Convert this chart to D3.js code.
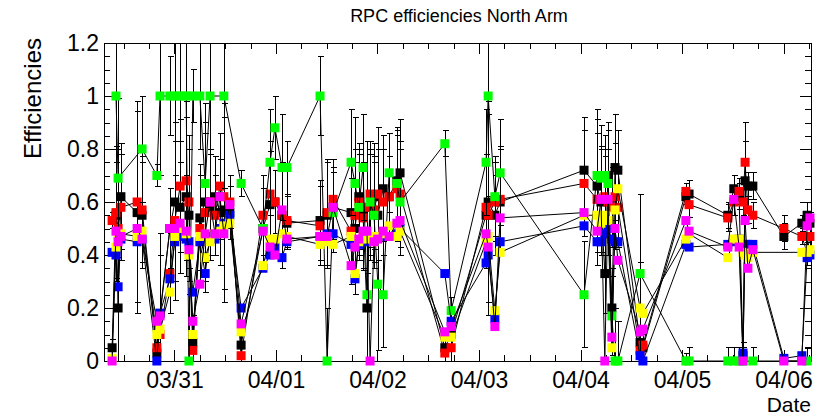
<!DOCTYPE html>
<html>
<head>
<meta charset="utf-8">
<script src="https://cdn.jsdelivr.net/npm/d3@7"></script>
<style>
  body { margin: 0; background: #fff; }
  text { font-family: "Liberation Sans", Arial, Helvetica, sans-serif; fill: #000; }
</style>
</head>
<body>
<svg id="chart" width="822" height="418"></svg>
<script>
// run times (2008), one entry per measurement
const times = [
  "03/30 09:15","03/30 10:10","03/30 10:40","03/30 11:20","03/30 15:10","03/30 16:20","03/30 19:50","03/30 20:35","03/30 22:55","03/31 00:05",
  "03/31 01:20","03/31 02:45","03/31 03:25","03/31 04:20","03/31 06:00","03/31 07:15","03/31 08:25","03/31 09:35","03/31 10:45","03/31 11:40",
  "03/31 13:05","03/31 15:45","03/31 20:55","03/31 22:35","03/31 23:45","04/01 01:25","04/01 02:35","04/01 10:25","04/01 12:05","04/01 13:30",
  "04/01 17:45","04/01 18:40","04/01 19:35","04/01 20:35","04/01 21:30","04/01 22:15","04/01 23:10","04/02 00:05","04/02 01:20","04/02 02:45",
  "04/02 04:35","04/02 05:20","04/02 15:55","04/02 17:25","04/03 01:40","04/03 02:10","04/03 03:45","04/03 05:00","04/04 00:50","04/04 03:55",
  "04/04 04:50","04/04 05:45","04/04 06:30","04/04 07:25","04/04 08:10","04/04 08:50","04/04 14:05","04/04 14:45","04/05 00:55","04/05 01:40",
  "04/05 10:50","04/05 12:15","04/05 13:30","04/05 14:25","04/05 14:55","04/05 15:35","04/05 16:45","04/06 00:05","04/06 04:20","04/06 05:35",
  "04/06 06:15"
];

const black = [
  0.05,0.55,0.20,0.62,0.56,0.55,0.03,0.18,0.50,0.60,
  0.58,0.62,0.55,0.07,0.54,0.60,0.58,0.62,0.56,0.57,
  0.56,0.06,0.50,0.59,0.60,0.55,0.52,0.53,0.55,0.58,
  0.56,0.50,0.62,0.55,0.20,0.58,0.62,0.55,0.65,0.62,
  0.68,0.71,0.05,0.10,0.55,0.60,0.55,0.60,0.72,0.66,
  0.60,0.33,0.70,0.20,0.73,0.72,0.07,0.05,0.62,0.63,
  0.55,0.65,0.62,0.02,0.68,0.66,0.66,0.47,0.52,0.55,
  0.52
];
const red = [
  0.53,0.56,0.50,0.58,0.60,0.57,0.05,0.10,0.33,0.53,
  0.66,0.68,0.60,0.04,0.50,0.56,0.60,0.55,0.66,0.62,
  0.60,0.02,0.55,0.63,0.60,0.55,0.53,0.51,0.56,0.61,
  0.49,0.55,0.60,0.54,0.58,0.63,0.57,0.63,0.60,0.62,
  0.65,0.63,0.03,0.05,0.58,0.55,0.60,0.61,0.67,0.61,
  0.61,0.62,0.60,0.58,0.62,0.58,0.04,0.06,0.64,0.59,
  0.54,0.60,0.64,0.60,0.75,0.57,0.55,0.50,0.47,0.41,
  0.47
];
const green = [
  null,1.00,0.69,null,null,0.80,0.70,1.00,1.00,1.00,
  1.00,1.00,0.00,1.00,1.00,0.67,1.00,null,null,1.00,
  null,0.67,0.50,0.75,0.88,0.73,0.73,1.00,0.00,0.56,
  0.75,0.67,0.58,0.73,0.25,0.60,0.55,0.29,0.25,0.71,
  0.67,0.60,0.82,0.19,0.75,1.00,0.62,0.71,0.25,0.70,
  0.69,0.70,0.67,0.17,0.00,0.00,0.33,null,0.00,0.00,
  0.00,0.00,0.00,0.00,null,null,0.00,null,null,0.00,
  null
];
const blue = [
  0.41,0.40,0.28,0.46,0.45,0.46,0.00,0.18,0.31,0.45,
  0.47,0.46,0.45,0.26,0.45,0.33,0.47,0.46,0.50,0.52,
  0.55,0.20,0.35,0.40,0.43,0.39,0.45,0.47,0.48,0.48,
  0.44,0.31,0.44,0.46,0.45,0.46,0.46,0.47,0.47,0.47,
  0.48,0.50,0.33,0.15,0.37,0.40,0.16,0.45,0.51,0.45,
  0.45,0.48,0.50,0.46,0.45,0.45,0.02,0.00,0.44,0.43,
  0.44,0.45,0.46,0.03,0.44,0.44,0.44,0.01,0.02,0.39,
  0.40
];
const yellow = [
  0.01,0.43,0.47,0.48,0.47,0.49,0.10,0.12,0.26,0.47,
  0.50,0.48,0.40,0.10,0.47,0.39,0.45,0.48,0.49,0.51,
  0.52,0.11,0.36,0.46,0.46,0.48,0.47,0.44,0.45,0.44,
  0.47,0.33,0.45,0.47,0.46,0.47,0.45,0.47,0.48,0.51,
  0.47,0.49,0.09,0.09,0.45,0.47,0.19,0.41,0.55,0.55,
  0.52,0.55,0.53,0.05,0.57,0.65,0.20,0.18,0.46,0.48,
  0.39,0.46,0.46,0.41,0.40,0.39,0.41,null,0.41,0.41,
  0.42
];
const magenta = [
  0.00,0.49,0.45,0.47,0.50,0.46,0.15,0.17,0.50,0.50,
  0.52,0.49,0.42,0.15,0.29,0.48,0.60,0.48,0.62,0.48,
  0.59,0.14,0.49,0.43,0.40,0.57,0.46,0.47,0.47,0.58,
  0.36,0.43,0.46,0.49,0.49,0.00,0.45,0.46,0.49,0.47,
  0.52,0.53,0.11,0.13,0.48,0.43,0.13,0.54,0.56,0.49,
  0.61,0.00,0.61,0.09,0.50,0.38,0.11,0.12,0.53,0.49,
  0.43,0.61,0.43,0.00,0.53,0.35,0.42,0.00,0.00,0.51,
  0.54
];
// error half-widths per measurement
const errors = [
  0.03,0.25,0.30,0.20,0.38,0.20,0.04,0.30,0.15,0.30,
  0.25,0.30,0.25,0.10,0.20,0.30,0.20,0.15,0.20,0.35,
  0.10,0.05,0.15,0.20,0.12,0.20,0.10,0.15,0.20,0.15,
  0.20,0.25,0.20,0.20,0.25,0.20,0.20,0.25,0.20,0.15,
  0.20,0.20,0.05,0.05,0.20,0.38,0.15,0.20,0.20,0.25,
  0.20,0.15,0.20,0.15,0.20,0.15,0.30,0.05,0.03,0.05,
  0.05,0.05,0.05,0.05,0.15,0.05,0.05,0.05,0.03,0.05,
  0.04
];

const yTicks = [0, 0.2, 0.4, 0.6, 0.8, 1.0, 1.2];
const dayTicks = ["03/31", "04/01", "04/02", "04/03", "04/04", "04/05", "04/06"];

const parseTime = d3.timeParse("%Y/%m/%d %H:%M");
const year = "2008/";
const dates = times.map(t => parseTime(year + t));

const svg = d3.select('#chart');
const margin = { top: 43, right: 11, bottom: 57, left: 104 };
const W = +svg.attr('width'), H = +svg.attr('height');
const x0 = margin.left, x1 = W - margin.right, y0 = H - margin.bottom, y1 = margin.top;

const x = d3.scaleTime()
  .domain([parseTime(year + "03/30 07:20"), parseTime(year + "04/06 06:30")])
  .range([x0, x1]);

const y = d3.scaleLinear()
  .domain([0, 1.2])
  .range([y0, y1]);

// frame
svg.append('rect')
  .attr('x', x0).attr('y', y1)
  .attr('width', x1 - x0).attr('height', y0 - y1)
  .attr('fill', 'none').attr('stroke', '#000').attr('stroke-width', 1)
  .attr('shape-rendering', 'crispEdges');

const dayDates = dayTicks.map(d => parseTime(year + d + " 00:00"));
const minorDates = d3.timeHour.every(6).range(x.domain()[0], x.domain()[1]);
const yMinor = d3.range(0, 1.2001, 0.05);

function styleAxis(g) {
  g.select('.domain').remove();
  g.selectAll('line').attr('stroke', '#000').attr('shape-rendering', 'crispEdges');
  g.selectAll('text').attr('font-size', 23).attr('fill', '#000')
    .attr('font-family', '"Liberation Sans", Arial, Helvetica, sans-serif');
}

// x axes (bottom with labels, top mirrored)
svg.append('g').attr('transform', `translate(0,${y0})`)
  .call(d3.axisBottom(x).tickValues(minorDates).tickSize(-6).tickFormat(''))
  .call(styleAxis);
svg.append('g').attr('transform', `translate(0,${y0})`)
  .call(d3.axisBottom(x).tickValues(dayDates).tickSize(-11).tickPadding(11)
    .tickFormat(d3.timeFormat('%m/%d')))
  .call(styleAxis);
svg.append('g').attr('transform', `translate(0,${y1})`)
  .call(d3.axisTop(x).tickValues(minorDates).tickSize(-6).tickFormat(''))
  .call(styleAxis);
svg.append('g').attr('transform', `translate(0,${y1})`)
  .call(d3.axisTop(x).tickValues(dayDates).tickSize(-11).tickFormat(''))
  .call(styleAxis);

// y axes (left with labels, right mirrored)
svg.append('g').attr('transform', `translate(${x0},0)`)
  .call(d3.axisLeft(y).tickValues(yMinor).tickSize(-6).tickFormat(''))
  .call(styleAxis);
svg.append('g').attr('transform', `translate(${x0},0)`)
  .call(d3.axisLeft(y).tickValues(yTicks).tickSize(-11).tickPadding(5)
    .tickFormat(d => String(+d.toFixed(1))))
  .call(styleAxis);
svg.append('g').attr('transform', `translate(${x1},0)`)
  .call(d3.axisRight(y).tickValues(yMinor).tickSize(-6).tickFormat(''))
  .call(styleAxis);
svg.append('g').attr('transform', `translate(${x1},0)`)
  .call(d3.axisRight(y).tickValues(yTicks).tickSize(-11).tickFormat(''))
  .call(styleAxis);

// titles
svg.append('text')
  .attr('x', 459).attr('y', 22)
  .attr('text-anchor', 'middle')
  .attr('font-size', 18)
  .text('RPC efficiencies North Arm');

svg.append('text')
  .attr('transform', 'translate(41,38) rotate(-90)')
  .attr('text-anchor', 'end')
  .attr('font-size', 24)
  .text('Efficiencies');

svg.append('text')
  .attr('x', x1).attr('y', 412)
  .attr('text-anchor', 'end')
  .attr('font-size', 21)
  .text('Date');

// graphs (error bars shown for the first three)
const series = [
  { name: 'black', values: black, color: '#000000', errs: true },
  { name: 'red', values: red, color: '#ff0000', errs: true },
  { name: 'green', values: green, color: '#00ff00', errs: true },
  { name: 'blue', values: blue, color: '#0000ff', errs: false },
  { name: 'yellow', values: yellow, color: '#ffff00', errs: false },
  { name: 'magenta', values: magenta, color: '#ff00ff', errs: false }
];

const line = d3.line()
  .x(d => x(d.date))
  .y(d => y(d.v));

const ms = 9;   // marker size
const cap = 3;  // half-width of error bar caps

series.forEach(s => {
  const pts = dates
    .map((date, i) => ({ date, v: s.values[i], e: errors[i] }))
    .filter(d => d.v !== null);

  const g = svg.append('g').attr('class', 'graph-' + s.name);

  g.append('path')
    .datum(pts)
    .attr('fill', 'none')
    .attr('stroke', '#000')
    .attr('stroke-width', 1)
    .attr('d', line);

  if (s.errs) {
    const eb = g.append('g')
      .attr('stroke', '#000')
      .attr('stroke-width', 1)
      .attr('shape-rendering', 'crispEdges');

    pts.forEach(d => {
      const cx = Math.round(x(d.date)) + 0.5;
      const lo = y(Math.max(0, d.v - d.e));
      const hi = y(Math.min(1.2, d.v + d.e));
      eb.append('line').attr('x1', cx).attr('x2', cx).attr('y1', lo).attr('y2', hi);
      if (d.v - d.e > 0) eb.append('line').attr('x1', cx - cap).attr('x2', cx + cap).attr('y1', lo).attr('y2', lo);
      if (d.v + d.e < 1.2) eb.append('line').attr('x1', cx - cap).attr('x2', cx + cap).attr('y1', hi).attr('y2', hi);
    });
  }

  g.selectAll('rect.marker')
    .data(pts)
    .join('rect')
    .attr('class', 'marker')
    .attr('x', d => x(d.date) - ms / 2)
    .attr('y', d => y(d.v) - ms / 2)
    .attr('width', ms)
    .attr('height', ms)
    .attr('fill', s.color);
});
</script>
</body>
</html>
